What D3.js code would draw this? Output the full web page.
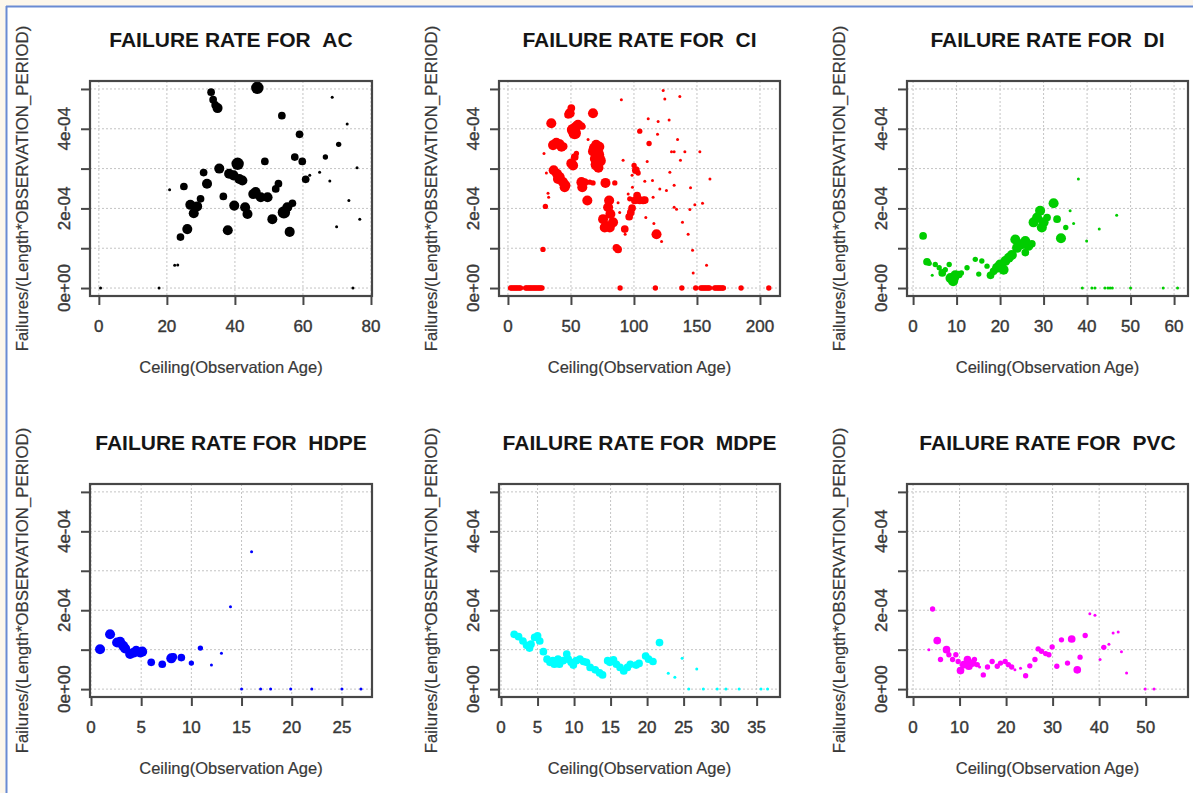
<!DOCTYPE html>
<html>
<head>
<meta charset="utf-8">
<script src="https://cdn.jsdelivr.net/npm/d3@7"></script>
<style>
  body { margin: 0; background: #fdf7ec; }
  svg { display: block; }
  text { font-family: "Liberation Sans", Arial, sans-serif; }
</style>
</head>
<body>
<svg id="chart" width="1193" height="793"></svg>
<script>
// rates are in units of 1e-4, size is the relative marker weight (1 small .. 5 big)
const acAge  = [0.5,17.7,74.7,20.8,22.3,23.2,24,25,26,26.9,27.9,28.9,29.9,30.8,31.8,33,33.6,34.2,34.9,35.4,36.6,37.9,38.3,39.6,39.8,40.8,41.3,42.2,43,43.7,45.4,46.1,46.6,47.6,48.8,49.6,51,52,52.8,53.8,54.4,55.4,56.1,56.9,57.6,59,59.8,60.8,62,64.9,66.6,67.9,68.6,69.9,70.5,73,73.5,75.9,76.7]
const acRate = [0,0,0,2.47,0.57,0.58,1.28,2.55,1.48,2.09,1.88,2.05,2.24,2.9,2.62,4.92,4.73,4.6,4.52,3.0,2.3,1.45,2.87,2.83,2.07,3.12,2.74,2.7,2.03,1.86,2.36,2.41,5.03,2.28,3.18,2.28,1.73,2.49,2.62,4.33,1.9,2.03,1.41,2.13,3.29,3.86,3.18,2.73,2.83,2.91,3.29,2.69,4.79,1.54,3.61,4.12,2.2,3.02,1.73]
const acSize = [1,1,1,1,1,1,3,3,4,4,4,4,3,3,4,3,3,3,4,4,3,4,4,4,4,5,4,4,4,4,4,4,5,4,3,4,4,3,3,3,5,4,4,3,3,3,3,3,1,1,2,1,1,1,2,1,1,1,1]

const ciAge  = [2,3,4,5,6,7,8,9,10,14,15,16,17,18,19,20,21,22,23,24,25,26,27,89,117,138,149,153,154,155,156,157,158,159,160,164,165,166,167,168,169,170,171,185,207,
  27.8,28.6,29.7,30.5,31.8,32.3,34.4,35.8,37.2,38.4,41.1,42.5,44.2,36.3,38.9,39.7,41.1,43.7,45.6,45,47.7,49,50.3,51.7,53,53.8,55.6,58.3,59.6,50.3,51.7,53,54.3,58.3,59,60.9,64.9,67.5,63,63.6,67.5,67.5,69,70.2,71.5,72.8,70.5,69,71.8,70,72.5,77.4,84.8,80.3,79.5,81.3,75.5,78.1,83.4,76.8,80.8,87.4,88.7,86.1,87.4,90,91.4,92.7,93,95.4,96.2,97.5,98.5,96.7,98.8,100.1,101.5,103.3,98.5,100.7,102.5,103.3,104.6,107.3,108.6,104.6,108.6,109.4,110.5,111.3,112,114.7,115.2,115.8,117.9,118.7,119.2,120.5,121.9,123.2,124.5,125.8,127.9,128.5,129.8,131.9,131.9,131.9,133.8,134.6,136.4,136.9,138.5,140.4,143,144.4,144.9,146.5,147,148.3,152.3,154.4,157.6,160.3]
const ciRate = [0,0,0,0,0,0,0,0,0,0,0,0,0,0,0,0,0,0,0,0,0,0,0,0,0,0,0,0,0,0,0,0,0,0,0,0,0,0,0,0,0,0,0,0,0,
  0.97,3.38,2.05,2.89,2.38,2.28,4.14,3.59,3.62,3.65,3.61,3.55,3.56,2.96,2.87,2.74,2.79,2.66,2.58,2.53,4.35,4.39,4.52,3.97,3.89,4.05,4.1,4.07,4.05,3.13,3.08,3.29,3.38,2.66,2.53,2.66,2.66,2.64,2.2,3.73,4.39,3.43,3.5,3.45,3.35,3.2,3.1,3.25,3.02,3.6,3.55,2.64,2.64,2.2,2.03,1.86,1.73,1.56,1.65,1.52,1.52,2.14,1.9,1.01,0.97,4.73,3.21,1.48,1.35,2.36,1.79,1.9,2.01,2.24,2.53,3.08,2.96,2.89,2.83,2.2,2.32,2.24,2.2,2.2,2.21,3.94,2.68,1.77,3.18,4.25,3.63,2.7,2.28,1.62,1.35,3.86,4.18,2.49,1.17,4.96,4.75,2.45,4.22,2.91,3.42,3.42,2.58,2.03,1.98,3.73,4.81,3.21,1.65,3.42,1.35,1.97,2.52,0.95,0.38,2.09,3.42,2.13,0.57,2.74]
const ciSize = [2,2,2,2,2,2,2,2,2,2,2,2,2,2,2,2,2,2,2,2,2,2,2,2,2,2,2,2,2,2,2,2,2,2,2,2,2,2,2,2,2,2,2,2,2,
  2,1,2,1,1,1,4,4,3,4,4,4,3,4,4,4,4,4,4,4,3,4,3,5,5,4,4,3,2,4,4,3,2,4,4,3,2,2,4,1,4,4,5,5,5,5,5,4,4,4,4,4,2,4,4,4,4,4,4,4,4,1,1,3,3,1,1,3,1,1,3,3,3,2,1,2,3,2,1,3,3,3,3,3,3,2,1,1,1,1,2,1,1,1,4,1,1,1,1,1,1,1,1,1,1,1,1,1,1,1,1,1,1,1,1,1,1,1,1,1,1,1,1,1,1]

const diAge  = [2.3,3.2,3.7,4.4,5.1,6,6.7,7.4,8.3,8.6,9.2,9.4,9.7,10.5,11.1,12.4,14.3,15.1,15.8,17,17.8,18.5,19.3,20,20.8,21.2,22,22.7,23.5,23.9,25,25.8,25.8,26.5,27.3,27.7,28.5,29.2,29.6,30,30.8,32.3,33.1,34,35.1,36.1,36.9,38,39.9,42.8,46.8,38.9,41.1,41.8,44.1,44.8,45.3,45.8,50,57.5,60.8]
const diRate = [1.31,0.66,0.62,0.32,0.59,0.51,0.38,0.46,0.59,0.25,0.17,0.25,0.32,0.34,0.38,0.51,0.72,0.35,0.68,0.55,0.32,0.42,0.51,0.59,0.46,0.68,0.76,0.83,1.22,1.01,1.1,1.18,0.89,1.06,1.11,1.65,1.77,1.94,1.52,1.65,1.77,2.13,1.73,1.25,1.52,1.94,1.62,2.74,1.18,1.48,1.83,0,0,0,0,0,0,0,0,0,0]
const diSize = [3,3,2,1,2,2,3,2,2,4,4,4,4,3,2,2,2,2,2,2,3,3,4,4,4,4,4,4,4,4,4,4,3,4,3,4,4,4,4,4,3,4,3,4,2,1,1,1,1,1,1,1,1,1,1,1,1,1,1,1,1]

const hdpeAge  = [0.9,1.9,2.6,2.9,3.2,3.4,3.9,4.3,4.5,4.9,5.1,6,7.1,8,8.2,9,10,10.9,12,13,13.9,16,15,16.9,17.9,19.9,22,25,26.9]
const hdpeRate = [1.01,1.39,1.18,1.2,1.1,1.03,0.89,0.93,1.0,0.93,0.95,0.68,0.63,0.78,0.82,0.8,0.66,1.04,0.61,0.91,2.09,3.48,0,0,0,0,0,0,0]
const hdpeSize = [4,4,4,4,4,4,4,4,3,4,4,3,3,4,3,3,2,2,1,1,1,1,1,1,1,1,1,1,1]

const mdpeAge  = [1.8,2.4,3,3.5,3.9,4.1,4.6,5,5.3,5.8,6.3,6.7,7.1,7.3,7.8,8,8.5,9,9.2,9.6,9.9,10.3,10.8,11.3,11.7,12.2,12.9,13.5,13.9,14.6,14.9,15.4,15.8,16.3,16.8,17.3,17.7,18.5,18.9,19.8,20.2,20.8,21.7,22.9,23.8,24.8,26.8,25.7,27.7,29.6,30.8,32.6,35.6,36.5]
const mdpeRate = [1.39,1.33,1.22,1.11,1.04,1.14,1.31,1.35,1.22,0.95,0.76,0.68,0.72,0.63,0.76,0.63,0.72,0.89,0.76,0.68,0.61,0.72,0.76,0.7,0.68,0.55,0.49,0.41,0.36,0.72,0.68,0.74,0.63,0.55,0.46,0.55,0.63,0.61,0.65,0.84,0.76,0.7,1.18,0.4,0.3,0.78,0.51,0,0,0,0,0,0,0]
const mdpeSize = [3,3,3,3,3,3,3,3,3,3,3,3,3,3,3,3,3,3,3,3,3,3,3,3,3,3,3,3,3,3,3,3,3,3,3,3,3,3,3,3,3,3,3,1,1,1,1,1,1,1,1,1,1,1]

const pvcAge  = [3.4,4.2,5.2,5.9,7.2,7.7,8.5,9.2,9.7,10.2,10.9,11.7,12,12.8,13.2,13.8,14.3,15.1,16,17,18.1,18.8,19.8,20.5,21.2,21.9,23.1,24.2,25.1,26.2,26.9,27.6,28.5,29.2,29.9,30.9,31.9,33.2,34.1,35.3,35.9,37,38,39.1,40.2,41,42.1,43,44.1,44.8,45.9,49.9,51.8]
const pvcRate = [1.0,2.03,1.23,0.75,1.0,0.87,0.75,0.87,0.7,0.47,0.62,0.75,0.58,0.66,0.75,0.62,0.56,0.36,0.56,0.7,0.58,0.66,0.7,0.62,0.56,0.49,0.53,0.34,0.59,0.75,1.02,0.96,0.9,0.87,1.07,0.58,1.25,0.66,1.27,0.49,0.81,1.36,1.91,1.87,0.75,1.06,1.14,1.42,1.45,0.95,0.41,0,0]
const pvcSize = [1,2,3,2,3,2,2,2,2,3,3,3,3,3,2,2,1,2,2,2,2,2,2,2,2,1,1,2,2,2,2,2,2,2,2,2,2,2,3,3,2,2,1,1,1,2,1,1,1,1,1,1,1]

const panelNames  = ["AC", "CI", "DI", "HDPE", "MDPE", "PVC"]
const panelColors = ["#000000", "#ff0000", "#00cd00", "#0000ff", "#00ffff", "#ff00ff"]
const xLimits = [[-2.6, 80.3], [-7.1, 215.9], [-1.4, 63.2], [-0.1, 28], [-0.28, 38.2], [-1.3, 59.1]]
const xTickValues = [[0,20,40,60,80], [0,50,100,150,200], [0,10,20,30,40,50,60], [0,5,10,15,20,25], [0,5,10,15,20,25,30,35], [0,10,20,30,40,50]]
const yLimits = [-0.2, 5.2]
const yTickValues = [0, 1, 2, 3, 4, 5]
const yTickLabels = ["0e+00", "", "2e-04", "", "4e-04", ""]

const series = [
    {age: acAge, rate: acRate, size: acSize},
    {age: ciAge, rate: ciRate, size: ciSize},
    {age: diAge, rate: diRate, size: diSize},
    {age: hdpeAge, rate: hdpeRate, size: hdpeSize},
    {age: mdpeAge, rate: mdpeRate, size: mdpeSize},
    {age: pvcAge, rate: pvcRate, size: pvcSize}
]

const svg = d3.select("#chart")

// page frame
svg.append("rect").attr("x", 7).attr("y", 7).attr("width", 1186).attr("height", 786).attr("fill", "#ffffff")
svg.append("line").attr("x1", 6.5).attr("x2", 6.5).attr("y1", 6).attr("y2", 793).attr("stroke", "#6a8bd3").attr("stroke-width", 2)
svg.append("line").attr("x1", 6).attr("x2", 1193).attr("y1", 6.5).attr("y2", 6.5).attr("stroke", "#6a8bd3").attr("stroke-width", 2)

const colLeft = [90, 499, 907]
const colRight = [372, 780, 1188]
const rowTop = [81, 484]
const rowBottom = [296, 697]

const radius = d3.scaleLinear().domain([1, 5]).range([1.5, 6.2])
const labelColor = "#383838"

panelNames.forEach(function(name, i){
    const col = i % 3, row = Math.floor(i / 3)
    const left = colLeft[col], right = colRight[col]
    const top = rowTop[row], bottom = rowBottom[row]
    const s = series[i]

    const x = d3.scaleLinear().domain(xLimits[i]).range([left, right])
    const y = d3.scaleLinear().domain(yLimits).range([bottom, top])

    const g = svg.append("g")

    // grid
    g.selectAll(".gx").data(xTickValues[i]).enter()
        .append("line")
        .attr("x1", d => x(d)).attr("x2", d => x(d))
        .attr("y1", top).attr("y2", bottom)
        .attr("stroke", "#c4c4c4").attr("stroke-dasharray", "2,2")
    g.selectAll(".gy").data(yTickValues).enter()
        .append("line")
        .attr("x1", left).attr("x2", right)
        .attr("y1", d => y(d)).attr("y2", d => y(d))
        .attr("stroke", "#c4c4c4").attr("stroke-dasharray", "2,2")

    // points
    const pts = s.age.map((a, k) => ({age: a, rate: s.rate[k], size: s.size[k]}))
    g.selectAll("circle").data(pts).enter()
        .append("circle")
        .attr("cx", d => x(d.age))
        .attr("cy", d => y(d.rate))
        .attr("r", d => radius(d.size))
        .attr("fill", panelColors[i])

    // box
    g.append("rect")
        .attr("x", left).attr("y", top)
        .attr("width", right - left).attr("height", bottom - top)
        .attr("fill", "none").attr("stroke", "#474747").attr("stroke-width", 2.2)

    // axes
    const xAxis = g.append("g")
        .attr("transform", "translate(0," + bottom + ")")
        .call(d3.axisBottom(x).tickValues(xTickValues[i]).tickSize(9).tickFormat(""))
    const yAxis = g.append("g")
        .attr("transform", "translate(" + left + ",0)")
        .call(d3.axisLeft(y).tickValues(yTickValues).tickSize(9).tickFormat(""))
    ;[xAxis, yAxis].forEach(a => {
        a.select(".domain").remove()
        a.selectAll("line").attr("stroke", "#474747").attr("stroke-width", 2)
    })

    g.selectAll(".xlab").data(xTickValues[i]).enter()
        .append("text")
        .attr("x", d => x(d)).attr("y", bottom + 36)
        .attr("text-anchor", "middle")
        .attr("font-size", 17).attr("fill", labelColor)
        .attr("stroke", labelColor).attr("stroke-width", 0.4)
        .text(d => d)

    g.selectAll(".ylab").data(yTickValues).enter()
        .append("text")
        .attr("transform", d => "translate(" + (left - 20) + "," + y(d) + ") rotate(-90)")
        .attr("text-anchor", "middle")
        .attr("font-size", 17).attr("fill", labelColor)
        .attr("stroke", labelColor).attr("stroke-width", 0.4)
        .text((d, k) => yTickLabels[k])

    g.append("text")
        .attr("x", (left + right) / 2).attr("y", top - 34)
        .attr("text-anchor", "middle")
        .attr("font-size", 21).attr("font-weight", "bold").attr("fill", "#151515")
        .text("FAILURE RATE FOR\u00a0\u00a0" + name)

    g.append("text")
        .attr("x", (left + right) / 2).attr("y", bottom + 77)
        .attr("text-anchor", "middle")
        .attr("font-size", 16.5).attr("fill", labelColor)
        .attr("stroke", labelColor).attr("stroke-width", 0.2)
        .text("Ceiling(Observation Age)")

    g.append("text")
        .attr("transform", "translate(" + (left - 62) + "," + ((top + bottom) / 2) + ") rotate(-90)")
        .attr("text-anchor", "middle")
        .attr("font-size", 16.8).attr("fill", labelColor)
        .attr("stroke", labelColor).attr("stroke-width", 0.2)
        .text("Failures/(Length*OBSERVATION_PERIOD)")
})
</script>
</body>
</html>
